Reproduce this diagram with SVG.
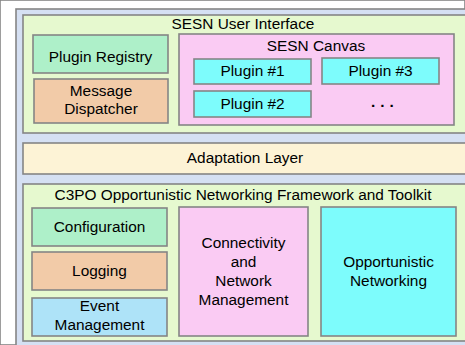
<svg xmlns="http://www.w3.org/2000/svg" width="465" height="345" viewBox="0 0 465 345">
<style>
rect{stroke:#858585;stroke-width:1.6}
text{font-family:"Liberation Sans",Arial,sans-serif;font-size:15.4px;fill:#000;text-anchor:middle}
.outer{fill:#d5e0f3}
.green{fill:#e6f9cf}
.mint{fill:#aef0c9}
.peach{fill:#f2cba8}
.pink{fill:#facbf3}
.cyan{fill:#7dfcfc}
.lblue{fill:#aee3f8}
.cream{fill:#fdf3d6}
</style>
<rect fill="#ffffff" stroke="none" x="0" y="0" width="465" height="345"/>
<g id="framework">
<rect class="outer" x="16" y="9" width="460" height="350"/>
</g>
<g id="sesn-ui">
<rect class="green" x="23" y="15" width="450" height="118"/>
<text x="243" y="29">SESN User Interface</text>
</g>
<g id="plugin-registry">
<rect class="mint" x="33" y="35" width="135" height="38"/>
<text x="100.5" y="62">Plugin Registry</text>
</g>
<g id="message-dispatcher">
<rect class="peach" x="34" y="79" width="134" height="44"/>
<text x="101" y="96">Message</text>
<text x="101" y="114">Dispatcher</text>
</g>
<g id="sesn-canvas">
<rect class="pink" x="179" y="34" width="275" height="91"/>
<text x="316" y="51">SESN Canvas</text>
</g>
<g id="plugin1">
<rect class="cyan" x="194" y="59" width="117" height="25"/>
<text x="252.5" y="76">Plugin #1</text>
</g>
<g id="plugin3">
<rect class="cyan" x="322" y="58" width="117" height="26"/>
<text x="380.5" y="76">Plugin #3</text>
</g>
<g id="plugin2">
<rect class="cyan" x="194" y="91" width="117" height="26"/>
<text x="252.5" y="109">Plugin #2</text>
</g>
<g id="more-plugins">
<text x="371" y="107" style="text-anchor:start;font-weight:bold;letter-spacing:5px">...</text>
</g>
<g id="adaptation-layer">
<rect class="cream" x="23" y="143" width="450" height="31"/>
<text x="245" y="163">Adaptation Layer</text>
</g>
<g id="c3po">
<rect class="green" x="23" y="184" width="450" height="157"/>
<text x="243" y="200">C3PO Opportunistic Networking Framework and Toolkit</text>
</g>
<g id="configuration">
<rect class="mint" x="32" y="208" width="135" height="38"/>
<text x="99.5" y="232">Configuration</text>
</g>
<g id="logging">
<rect class="peach" x="32" y="252" width="135" height="38"/>
<text x="99.5" y="276">Logging</text>
</g>
<g id="event-management">
<rect class="lblue" x="32" y="298" width="135" height="38"/>
<text x="99.5" y="311">Event</text>
<text x="99.5" y="330">Management</text>
</g>
<g id="connectivity">
<rect class="pink" x="179" y="207" width="129" height="129"/>
<text x="243.5" y="248">Connectivity</text>
<text x="243.5" y="267">and</text>
<text x="243.5" y="286">Network</text>
<text x="243.5" y="305">Management</text>
</g>
<g id="opportunistic">
<rect class="cyan" x="321" y="207" width="135" height="129"/>
<text x="388.5" y="267">Opportunistic</text>
<text x="388.5" y="286">Networking</text>
</g>
<g id="connectors"></g>
</svg>
